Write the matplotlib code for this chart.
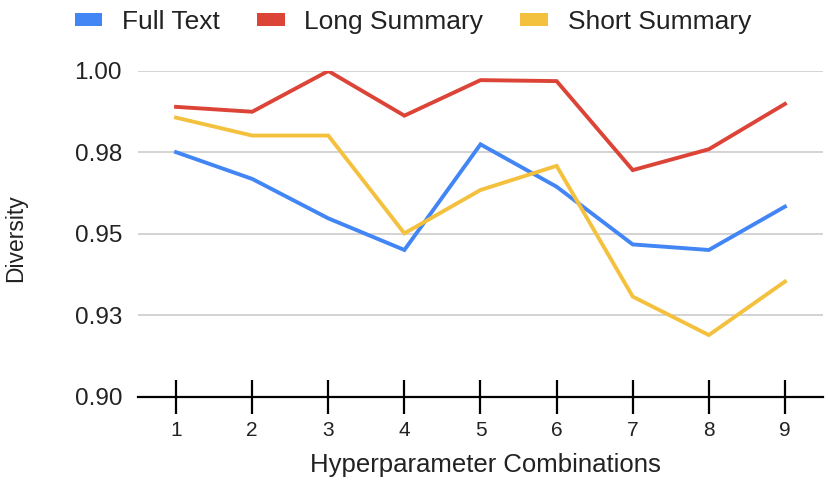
import matplotlib
matplotlib.use("Agg")
import matplotlib.pyplot as plt
from matplotlib.patches import Patch

plt.rcParams['font.family'] = ['Liberation Sans', 'DejaVu Sans']

combos = [1, 2, 3, 4, 5, 6, 7, 8, 9]
full_text = [0.9751, 0.9669, 0.9548, 0.9451, 0.9775, 0.9645, 0.9468, 0.9451, 0.9584]
long_summary = [0.9890, 0.9875, 1.0000, 0.9863, 0.9972, 0.9969, 0.9696, 0.9760, 0.9899]
short_summary = [0.9857, 0.9802, 0.9802, 0.9502, 0.9635, 0.9709, 0.9308, 0.9190, 0.9354]
yticks = [0.90, 0.925, 0.95, 0.975, 1.00]
ytick_labels = ["0.90", "0.93", "0.95", "0.98", "1.00"]
series_names = ["Full Text", "Long Summary", "Short Summary"]
colors = ["#4285F4", "#DB4437", "#F4C13F"]

fig = plt.figure(figsize=(8.29, 4.86), dpi=100)
ax = fig.add_axes([138/829, 1-397/486, (823-138)/829, (397-71)/486])

for vals, c in zip([full_text, long_summary, short_summary], colors):
    ax.plot(combos, vals, color=c, lw=2.8, solid_joinstyle='miter', zorder=3)

ax.set_xlim(0.5, 9.5)
ax.set_ylim(0.90, 1.00)
ax.set_yticks(yticks)
ax.set_yticklabels(ytick_labels)
ax.set_xticks(combos)
ax.grid(axis='y', color='#cccccc', lw=1.2, zorder=0)
for s in ['top', 'right', 'left']:
    ax.spines[s].set_visible(False)
ax.spines['bottom'].set_color('black')
ax.spines['bottom'].set_linewidth(1.6)
ax.spines['bottom'].set_zorder(4)
ax.tick_params(axis='y', length=0, labelsize=17.5, pad=11.5, colors='#222222')
ax.tick_params(axis='x', direction='inout', length=25, width=1.6, labelsize=15, pad=5, colors='black')
for lab in ax.get_xticklabels():
    lab.set_color('#222222')

ax.set_ylabel("Diversity", fontsize=16.5, color='#222222', va='center')
ax.yaxis.set_label_coords(-(138-16)/685, (397-238)/326)
ax.set_xlabel("Hyperparameter Combinations", fontsize=18.5, color='#222222', va='center')
ax.xaxis.set_label_coords((485-138)/685, -(465-397)/326)

handles = [Patch(facecolor=c, edgecolor='none') for c in colors]
fig.legend(handles, series_names, loc='center', bbox_to_anchor=(413/829, 1-22/486), ncol=3,
           frameon=False, fontsize=19, handlelength=1.05, handleheight=0.35,
           handletextpad=0.75, columnspacing=1.4, labelcolor='#222222')

fig.savefig("out.png", dpi=100)
